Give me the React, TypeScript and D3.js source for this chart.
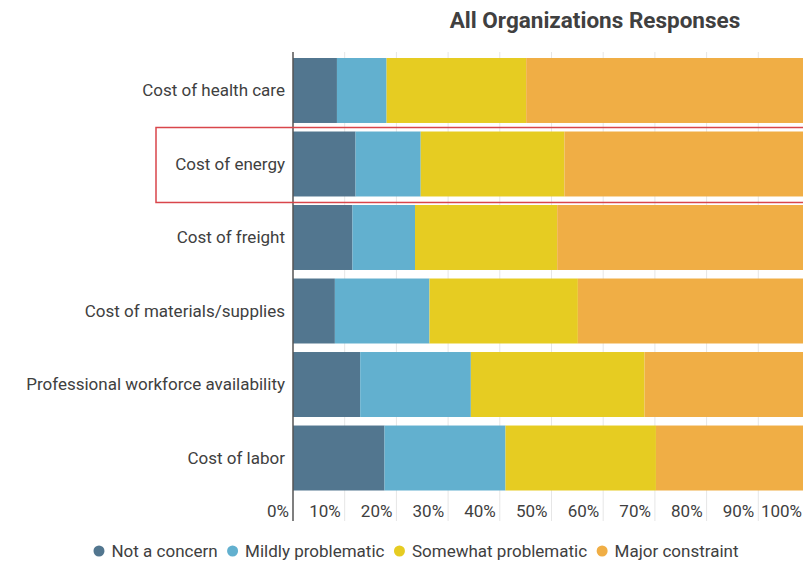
import { useEffect, useRef } from 'react'
import * as d3 from 'd3'

const categories = [
  'Cost of health care',
  'Cost of energy',
  'Cost of freight',
  'Cost of materials/supplies',
  'Professional workforce availability',
  'Cost of labor',
]
const seriesNames = ['Not a concern', 'Mildly problematic', 'Somewhat problematic', 'Major constraint']
const notConcern = [8.5, 12.1, 11.5, 8.1, 13.0, 17.7]
const mildly = [9.6, 12.6, 12.1, 18.3, 21.4, 23.4]
const somewhat = [27.0, 27.8, 27.5, 28.7, 33.6, 29.1]
const major = [54.9, 47.5, 48.9, 44.9, 32.0, 29.8]
const colors = ['#52768f', '#62b0cf', '#e6cc22', '#f0ae45']
const xTicks = [0, 10, 20, 30, 40, 50, 60, 70, 80, 90, 100]
const highlighted = 'Cost of energy'

export default function App() {
  const svgRef = useRef<SVGSVGElement>(null)

  useEffect(() => {
    if (!svgRef.current) return
    const svg = d3.select(svgRef.current)
    svg.selectAll('*').remove()

    const W = 803, H = 562
    const font = 'Roboto, sans-serif'
    const textColor = '#404040'

    const x = d3.scaleLinear().domain([0, 100]).range([293, 810])
    const y = d3.scaleBand().domain(categories).range([58, 490.5]).paddingInner(0.116)

    const rows = categories.map((c, i) => ({
      cat: c,
      'Not a concern': notConcern[i],
      'Mildly problematic': mildly[i],
      'Somewhat problematic': somewhat[i],
      'Major constraint': major[i],
    }))
    const stacked = d3.stack<any>().keys(seriesNames)(rows)

    // title
    svg.append('text').attr('x', 595).attr('y', 28)
      .attr('text-anchor', 'middle').attr('font-family', font)
      .attr('font-weight', 'bold').attr('font-size', 22.5).attr('fill', textColor)
      .text('All Organizations Responses')

    // grid
    svg.append('g').selectAll('line').data(xTicks.slice(1)).join('line')
      .attr('x1', d => x(d)).attr('x2', d => x(d))
      .attr('y1', 52).attr('y2', 521)
      .attr('stroke', '#e6e6e6').attr('stroke-width', 1)

    // bars
    stacked.forEach((s, si) => {
      svg.append('g').selectAll('rect').data(s).join('rect')
        .attr('x', d => x(d[0]))
        .attr('y', d => y(d.data.cat) as number)
        .attr('width', d => x(d[1]) - x(d[0]))
        .attr('height', y.bandwidth())
        .attr('fill', colors[si])
    })

    // axis line
    svg.append('line').attr('x1', x(0)).attr('x2', x(0)).attr('y1', 52).attr('y2', 521)
      .attr('stroke', '#555').attr('stroke-width', 1.5)

    // tick labels (last one kept inside the frame)
    svg.append('g').selectAll('text').data(xTicks).join('text')
      .attr('x', d => Math.min(x(d) - 4, W - 1)).attr('y', 517)
      .attr('text-anchor', 'end').attr('font-family', font)
      .attr('font-size', 17).attr('fill', textColor)
      .text(d => `${d}%`)

    // category labels
    svg.append('g').selectAll('text').data(categories).join('text')
      .attr('x', 285).attr('y', d => (y(d) as number) + y.bandwidth() / 2)
      .attr('dy', '0.35em').attr('text-anchor', 'end').attr('font-family', font)
      .attr('font-size', 17).attr('fill', textColor)
      .text(d => d)

    // highlight box
    const hy = y(highlighted) as number
    svg.append('rect').attr('x', 156).attr('y', hy - 4)
      .attr('width', 700).attr('height', y.bandwidth() + 10)
      .attr('fill', 'none').attr('stroke', '#d9464b').attr('stroke-width', 1.5)

    // legend
    const lg = svg.append('g')
    let cx = 0
    seriesNames.forEach((n, i) => {
      lg.append('circle').attr('cx', cx).attr('cy', 0).attr('r', 5.5).attr('fill', colors[i])
      const t = lg.append('text').attr('x', cx + 12.5).attr('y', 0).attr('dy', '0.35em')
        .attr('font-family', font).attr('font-size', 17).attr('fill', textColor).text(n)
      const w = (t.node() as SVGTextElement).getComputedTextLength()
      cx = cx + 12.5 + w + 15
    })
    const total = cx - 15 + 5.5
    lg.attr('transform', `translate(${416 - total / 2 + 5.5},551)`)

    svg.attr('width', W).attr('height', H)
  }, [])

  return (
    <div style={{ position: 'fixed', left: 0, top: 0, width: 803, height: 562, background: '#fff', overflow: 'hidden' }}>
      <svg ref={svgRef} width={803} height={562} style={{ display: 'block' }} />
    </div>
  )
}
